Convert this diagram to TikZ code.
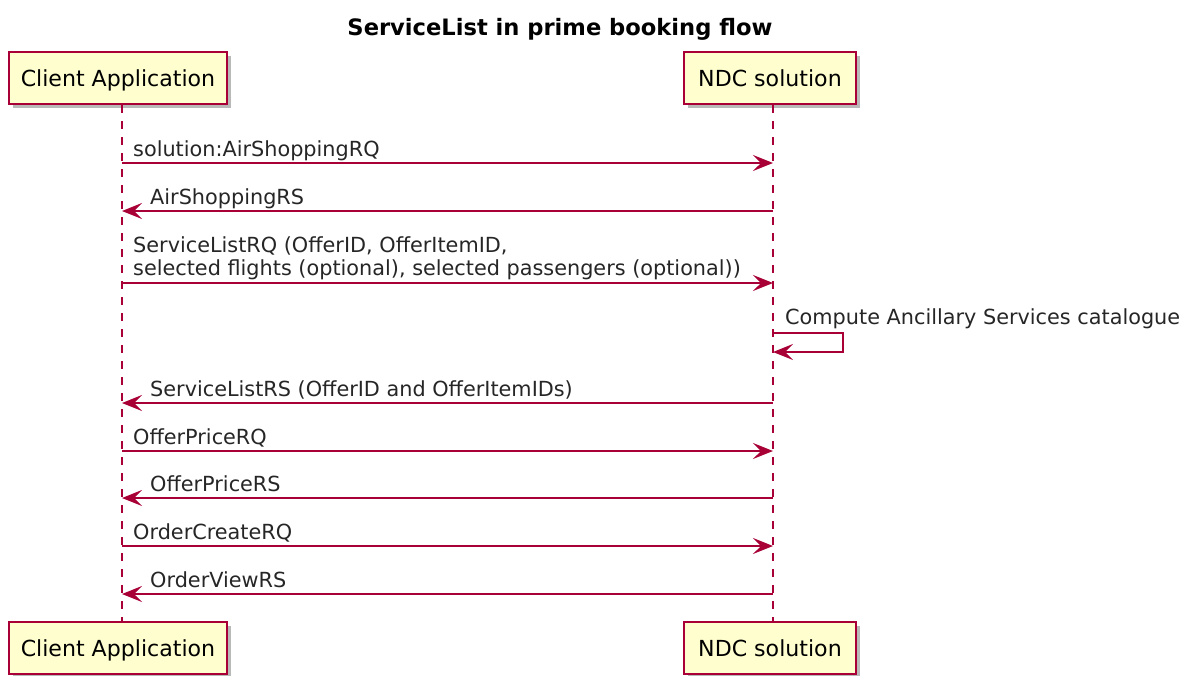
\documentclass[tikz,border=0pt]{standalone}
\usepackage{fontspec}
\setmainfont{DejaVu Sans}
\usetikzlibrary{arrows.meta,positioning,calc,shadows}
\definecolor{umlred}{HTML}{A80036}
\definecolor{umlfill}{HTML}{FEFECE}
\tikzset{
  partbox/.style={
    draw=umlred,
    fill=umlfill,
    line width=2.2pt,
    inner sep=0pt,
    text height=16pt,
    text depth=0pt,
    minimum height=52pt,
    font=\fontsize{22.1}{26}\selectfont,
    drop shadow={shadow xshift=4pt, shadow yshift=-4pt, fill=black!55, opacity=0.5}
  },
  lifeline/.style={draw=umlred, line width=1.5pt, dash pattern=on 8pt off 8pt},
  msgarrow/.style={draw=umlred, line width=1.6pt, -{Stealth[length=20pt, width=16pt, inset=8pt]}},
  msglabel/.style={anchor=base west, inner sep=0pt, align=left, text=black!85, font=\fontsize{20.8}{22.8}\selectfont},
  titletext/.style={anchor=base, inner sep=0pt, font=\fontsize{22.6}{26}\selectfont\bfseries}
}
\begin{document}
\begin{tikzpicture}[x=1pt, y=-1pt]
\useasboundingbox (0,0) rectangle (1191,675);
\node[titletext] (title) at (560,35) {ServiceList in prime booking flow};

% participants, top and bottom
\node[partbox, minimum width=218pt] (clientTop) at (118,78) {Client Application};
\node[partbox, minimum width=172pt] (ndcTop) at (770,78) {NDC solution};
\node[partbox, minimum width=218pt] (clientBot) at (118,648) {Client Application};
\node[partbox, minimum width=172pt] (ndcBot) at (770,648) {NDC solution};

% message ends on the lifelines
\foreach \i/\y in {1/163,2/211,3/283,5/403,6/451,7/498,8/546,9/594}{
  \coordinate (c\i) at (122,\y);
  \coordinate (n\i) at (773,\y);
}
\coordinate (s4a) at (773,333);
\coordinate (s4b) at (773,352);

\draw[lifeline] (clientTop.south -| c1) -- (clientBot.north -| c1);
\draw[lifeline] (ndcTop.south -| n1) -- (ndcBot.north -| n1);

\draw[msgarrow] (c1) -- (n1);
\node[msglabel] (m1) at ($(c1)+(11,-7)$) {solution:AirShoppingRQ};
\draw[msgarrow] (n2) -- (c2);
\node[msglabel] (m2) at ($(c2)+(28,-7)$) {AirShoppingRS};
\draw[msgarrow] (c3) -- (n3);
\node[msglabel] (m3) at ($(c3)+(11,-8)$) {ServiceListRQ (OfferID, OfferItemID,\\selected flights (optional), selected passengers (optional))};
\draw[msgarrow] (s4a) -- ++(70,0) |- (s4b);
\node[msglabel] (m4) at ($(s4a)+(12,-9)$) {Compute Ancillary Services catalogue};
\draw[msgarrow] (n5) -- (c5);
\node[msglabel] (m5) at ($(c5)+(28,-7)$) {ServiceListRS (OfferID and OfferItemIDs)};
\draw[msgarrow] (c6) -- (n6);
\node[msglabel] (m6) at ($(c6)+(11,-7)$) {OfferPriceRQ};
\draw[msgarrow] (n7) -- (c7);
\node[msglabel] (m7) at ($(c7)+(28,-7)$) {OfferPriceRS};
\draw[msgarrow] (c8) -- (n8);
\node[msglabel] (m8) at ($(c8)+(11,-7)$) {OrderCreateRQ};
\draw[msgarrow] (n9) -- (c9);
\node[msglabel] (m9) at ($(c9)+(28,-7)$) {OrderViewRS};
\end{tikzpicture}
\end{document}
